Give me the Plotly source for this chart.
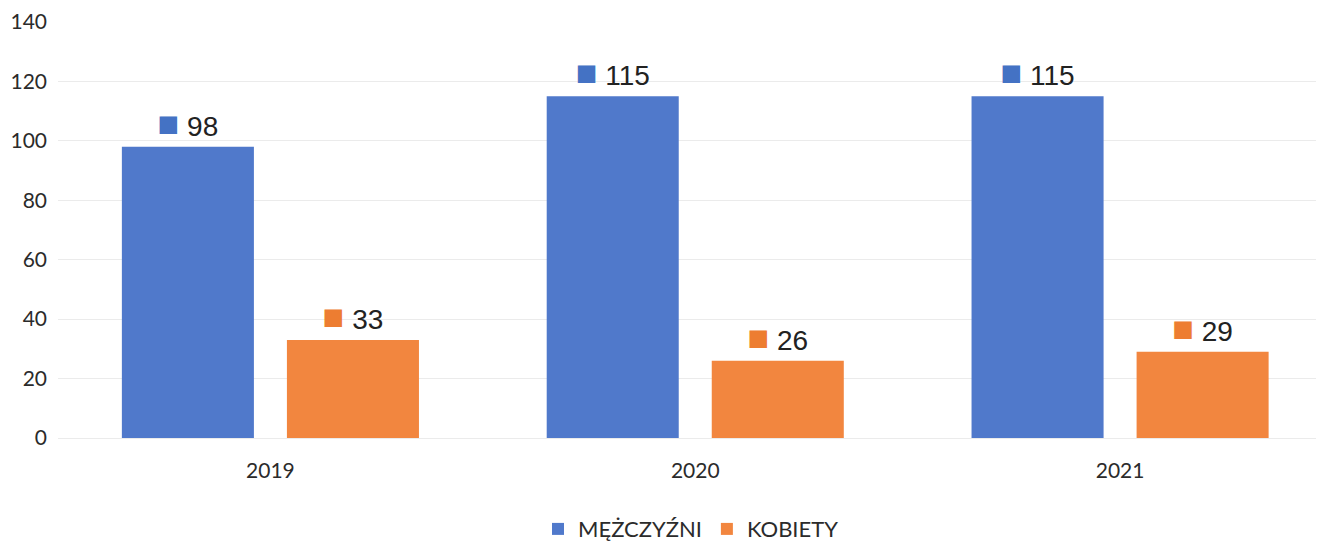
import plotly.graph_objects as go

years = ["2019", "2020", "2021"]
men = [98, 115, 115]
women = [33, 26, 29]
series_names = ["MĘŻCZYŹNI", "KOBIETY"]
y_ticks = [0, 20, 40, 60, 80, 100, 120, 140]

blue = "#5079CB"
orange = "#F2863F"
blue_key = "#4472C4"
orange_key = "#ED7D31"


def labels(vals, key):
    return [
        f'<span style="color:{key};font-size:36px">■</span> {v}' for v in vals
    ]


fig = go.Figure()
fig.add_trace(go.Bar(
    x=years, y=men, name=series_names[0],
    marker=dict(color=blue, line=dict(width=0)),
    text=labels(men, blue_key), textposition="outside",
    textfont=dict(family="Liberation Sans", size=28, color="#222222"),
    cliponaxis=False,
))
fig.add_trace(go.Bar(
    x=years, y=women, name=series_names[1],
    marker=dict(color=orange, line=dict(width=0)),
    text=labels(women, orange_key), textposition="outside",
    textfont=dict(family="Liberation Sans", size=28, color="#222222"),
    cliponaxis=False,
))

# page body has an 8px default margin, so the figure is sized to fit inside
fig.update_layout(
    width=1316, height=534,
    margin=dict(l=50, r=0, t=14, b=104, autoexpand=False),
    paper_bgcolor="white", plot_bgcolor="white",
    barmode="group", bargap=0.223, bargroupgap=0.2,
    font=dict(family="Lato", color="#2B2B2B"),
    showlegend=True,
    legend=dict(
        orientation="h", x=0.5, xanchor="center", y=-0.219, yanchor="middle",
        font=dict(family="Lato", size=22, color="#2B2B2B"),
        itemwidth=30, traceorder="normal",
    ),
)
fig.update_xaxes(
    type="category", range=[-0.5, 2.48], automargin=False,
    showgrid=False, showline=False, ticks="", ticklabelstandoff=18,
    tickfont=dict(family="Lato", size=21, color="#2B2B2B"),
)
fig.update_yaxes(
    range=[0, 140], tickvals=y_ticks, automargin=False,
    showgrid=True, gridcolor="#EBEBEB", gridwidth=1,
    zeroline=True, zerolinecolor="#EBEBEB", zerolinewidth=1,
    showline=False, ticks="", ticklabelstandoff=10,
    tickfont=dict(family="Lato", size=21, color="#2B2B2B"),
)

fig.write_html("out.html")
